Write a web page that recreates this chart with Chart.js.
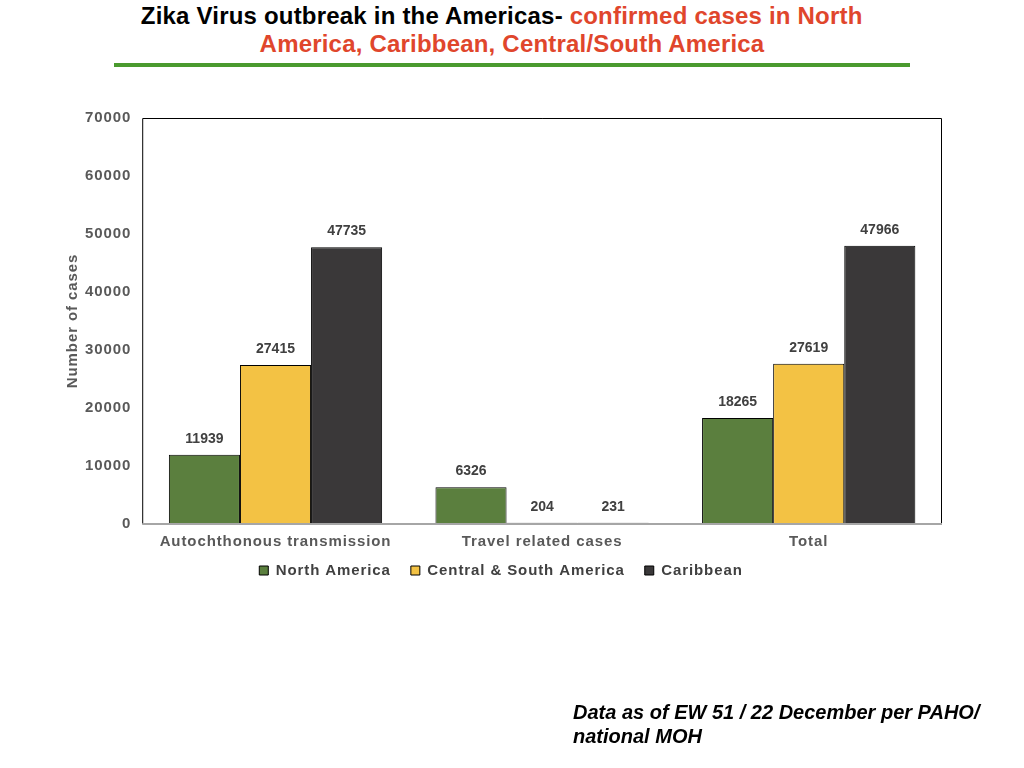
<!DOCTYPE html>
<html>
<head>
<meta charset="utf-8">
<script src="https://cdn.jsdelivr.net/npm/chart.js@4.4.0/dist/chart.umd.min.js"></script>
<style>
  body { margin: 0; background: #fff; font-family: "Liberation Sans", Arial, sans-serif; }
  #page { position: relative; width: 1024px; height: 768px; overflow: hidden; }
  #titel { position: absolute; left: 0; top: 2px; width: 1024px; text-align: center;
           font-weight: bold; font-size: 24px; line-height: 28px; color: #000; letter-spacing: 0.2px; }
  #titel span { color: #e0462c; }
  #garis { position: absolute; left: 114px; top: 63px; width: 796px; height: 4px; background: #4a9a2e; }
  #wadah { position: absolute; left: 0; top: 0; width: 1024px; height: 768px; }
  #catatan { position: absolute; left: 573px; top: 700px; font-weight: bold; font-style: italic;
             font-size: 20px; line-height: 24px; color: #000; }
</style>
</head>
<body>
<div id="page">
  <div id="titel">Zika Virus outbreak in the Americas- <span>confirmed cases in North&nbsp;&nbsp;&nbsp;<br>America, Caribbean, Central/South America</span></div>
  <div id="garis"></div>
  <div id="wadah"><canvas id="grafikZika"></canvas></div>
  <div id="catatan">Data as of EW 51 / 22 December per PAHO/<br>national MOH</div>
</div>
<script>
// =================
// DATA
// =================
let kategori = ["Autochthonous transmission", "Travel related cases", "Total"];
let northAmerica = [11939, 6326, 18265];
let centralSouth = [27415, 204, 27619];
let caribbean = [47735, 231, 47966];
let namaSeri = ["North America", "Central & South America", "Caribbean"];
let warnaSeri = ["#5b7f3e", "#f3c244", "#3a3839"];
let tickY = [0, 10000, 20000, 30000, 40000, 50000, 60000, 70000];

const hurufChart = "'Liberation Sans', Arial, sans-serif";
const jarak = "0.9px";

// =================
// PLUGIN: jarak huruf, posisi legend, label angka & bingkai
// =================
const jarakHuruf = {
    id: "jarakHuruf",
    beforeUpdate(chart) { chart.ctx.letterSpacing = jarak; },
    beforeLayout(chart) { chart.ctx.letterSpacing = jarak; },
    afterLayout(chart) {
        // legend sedikit naik, lebih rapat ke label sumbu x
        chart.legend.top -= 9;
        chart.legend.bottom -= 9;
    },
    beforeDraw(chart) { chart.ctx.letterSpacing = jarak; }
};

const labelAngka = {
    id: "labelAngka",
    afterDatasetsDraw(chart) {
        let ctx = chart.ctx;
        ctx.save();
        ctx.letterSpacing = "0px";
        ctx.font = "bold 14px " + hurufChart;
        ctx.fillStyle = "#404040";
        ctx.textAlign = "center";
        ctx.textBaseline = "bottom";
        chart.data.datasets.forEach(function (ds, i) {
            chart.getDatasetMeta(i).data.forEach(function (bar, j) {
                ctx.fillText(ds.data[j], bar.x, bar.y - 9);
            });
        });
        ctx.restore();
    },
    afterDraw(chart) {
        let a = chart.chartArea;
        let ctx = chart.ctx;
        ctx.save();
        ctx.lineWidth = 1;
        ctx.strokeStyle = "#000";
        ctx.beginPath();
        ctx.moveTo(a.left + 0.5, a.bottom);
        ctx.lineTo(a.left + 0.5, a.top + 0.5);
        ctx.lineTo(a.right - 0.5, a.top + 0.5);
        ctx.lineTo(a.right - 0.5, a.bottom);
        ctx.stroke();
        ctx.strokeStyle = "#a6a6a6";
        ctx.lineWidth = 2;
        ctx.beginPath();
        ctx.moveTo(a.left, a.bottom);
        ctx.lineTo(a.right, a.bottom);
        ctx.stroke();
        ctx.restore();
    }
};

// =================
// GRAFIK BATANG
// =================
function buatGrafik() {
    let ctx = document.getElementById("grafikZika").getContext("2d");
    let semuaSeri = [northAmerica, centralSouth, caribbean];
    new Chart(ctx, {
        type: "bar",
        data: {
            labels: kategori,
            datasets: semuaSeri.map(function (d, i) {
                return {
                    label: namaSeri[i],
                    data: d,
                    backgroundColor: warnaSeri[i],
                    borderColor: "#000",
                    borderWidth: 1,
                    categoryPercentage: 0.8,
                    barPercentage: 1.0
                };
            })
        },
        options: {
            responsive: true,
            maintainAspectRatio: false,
            animation: false,
            layout: { padding: { top: 118, left: 60, right: 82, bottom: 171 } },
            plugins: {
                legend: {
                    position: "bottom",
                    labels: {
                        boxWidth: 9,
                        boxHeight: 9,
                        padding: 20,
                        color: "#404040",
                        font: { family: hurufChart, size: 15, weight: "bold" }
                    }
                },
                tooltip: { enabled: false }
            },
            scales: {
                x: {
                    grid: { display: false },
                    border: { display: false },
                    ticks: {
                        color: "#595959",
                        padding: 1,
                        font: { family: hurufChart, size: 15, weight: "bold" }
                    }
                },
                y: {
                    min: tickY[0],
                    max: tickY[tickY.length - 1],
                    grid: { display: false },
                    border: { display: false },
                    afterBuildTicks(axis) {
                        axis.ticks = tickY.map(v => ({ value: v }));
                    },
                    ticks: {
                        color: "#595959",
                        padding: 3,
                        callback: v => String(v),
                        font: { family: hurufChart, size: 15, weight: "bold" }
                    },
                    title: {
                        display: true,
                        text: "Number of cases",
                        color: "#595959",
                        padding: { top: 4, bottom: 0 },
                        font: { family: hurufChart, size: 15, weight: "bold" }
                    }
                }
            }
        },
        plugins: [jarakHuruf, labelAngka]
    });
}

buatGrafik();
</script>
</body>
</html>
